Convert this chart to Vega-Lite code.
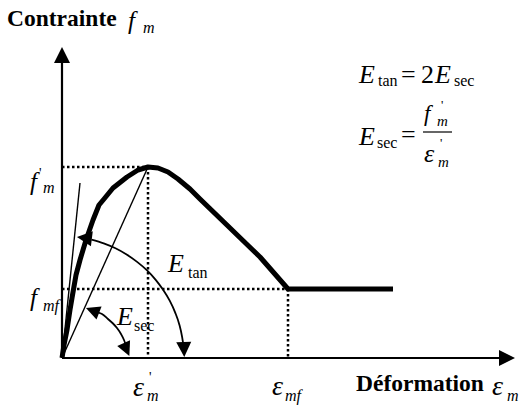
{
  "$schema": "https://vega.github.io/schema/vega-lite/v6.json",
  "width": 522,
  "height": 405,
  "padding": 0,
  "autosize": {"type": "none"},
  "background": "white",
  "config": {"view": {"stroke": null}},
  "datasets": {
    "axes": [{"x": 0, "y": 0, "x2": 0, "y2": 298}, {"x": 0, "y": 0, "x2": 440, "y2": 0}],
    "dots": [
      {"x": 0, "y": 191, "x2": 86, "y2": 191},
      {"x": 86, "y": 191, "x2": 86, "y2": 0},
      {"x": 0, "y": 69, "x2": 226, "y2": 69},
      {"x": 226, "y": 69, "x2": 226, "y2": 0}
    ],
    "thin": [{"x": 0, "y": 0, "x2": 86, "y2": 191}, {"x": 0, "y": 0, "x2": 18, "y2": 175}],
    "frac": [{"x": 361, "y": 226, "x2": 390, "y2": 226}],
    "curve": [
      {"i": 0, "x": 0, "y": 0}, {"i": 1, "x": 2, "y": 13}, {"i": 2, "x": 5, "y": 28},
      {"i": 3, "x": 8, "y": 48}, {"i": 4, "x": 10, "y": 60}, {"i": 5, "x": 14, "y": 83},
      {"i": 6, "x": 18, "y": 98}, {"i": 7, "x": 24, "y": 118}, {"i": 8, "x": 31, "y": 138},
      {"i": 9, "x": 37, "y": 153}, {"i": 10, "x": 42, "y": 159}, {"i": 11, "x": 51, "y": 170},
      {"i": 12, "x": 65, "y": 181}, {"i": 13, "x": 76, "y": 188}, {"i": 14, "x": 86, "y": 191},
      {"i": 15, "x": 96, "y": 190}, {"i": 16, "x": 106, "y": 186}, {"i": 17, "x": 116, "y": 179},
      {"i": 18, "x": 128, "y": 169}, {"i": 19, "x": 138, "y": 159}, {"i": 20, "x": 168, "y": 130},
      {"i": 21, "x": 198, "y": 101}, {"i": 22, "x": 226, "y": 69}, {"i": 23, "x": 331, "y": 69}
    ],
    "arcs": [
      {"arc": "tan", "i": 0, "x": 29.5, "y": 118.4}, {"arc": "tan", "i": 1, "x": 41.7, "y": 114.6},
      {"arc": "tan", "i": 2, "x": 53.5, "y": 109.7}, {"arc": "tan", "i": 3, "x": 64.6, "y": 103.5},
      {"arc": "tan", "i": 4, "x": 75.1, "y": 96.1}, {"arc": "tan", "i": 5, "x": 84.8, "y": 87.8},
      {"arc": "tan", "i": 6, "x": 93.5, "y": 78.4}, {"arc": "tan", "i": 7, "x": 101.1, "y": 68.2},
      {"arc": "tan", "i": 8, "x": 107.7, "y": 57.3}, {"arc": "tan", "i": 9, "x": 113.1, "y": 45.7},
      {"arc": "tan", "i": 10, "x": 117.3, "y": 33.6}, {"arc": "tan", "i": 11, "x": 120.1, "y": 21.2},
      {"arc": "tan", "i": 12, "x": 121.1, "y": 14.9},
      {"arc": "sec", "i": 0, "x": 36, "y": 45.5}, {"arc": "sec", "i": 1, "x": 40, "y": 44},
      {"arc": "sec", "i": 2, "x": 46, "y": 39}, {"arc": "sec", "i": 3, "x": 51, "y": 34.5},
      {"arc": "sec", "i": 4, "x": 55, "y": 30}, {"arc": "sec", "i": 5, "x": 59, "y": 24},
      {"arc": "sec", "i": 6, "x": 62, "y": 18}, {"arc": "sec", "i": 7, "x": 63.5, "y": 14}
    ],
    "heads": [
      {"x": 0, "y": 303, "a": 0, "s": 256},
      {"x": 445, "y": 0, "a": 90, "s": 256},
      {"x": 22.4, "y": 120.1, "a": -83, "s": 225},
      {"x": 122, "y": 8.5, "a": 178, "s": 225},
      {"x": 30.5, "y": 47.5, "a": -69, "s": 196},
      {"x": 64.5, "y": 8.5, "a": 156, "s": 196}
    ],
    "bold": [
      {"x": -55, "y": 332, "t": "Contrainte", "s": 23.5},
      {"x": 294, "y": -33, "t": "Déformation", "s": 23.5}
    ],
    "ital": [
      {"x": 66, "y": 329, "t": "f", "s": 25}, {"x": 81, "y": 325, "t": "m", "s": 16},
      {"x": -32, "y": 168, "t": "f", "s": 25}, {"x": -19, "y": 165, "t": "m", "s": 16},
      {"x": -32, "y": 52, "t": "f", "s": 25}, {"x": -19, "y": 47, "t": "mf", "s": 16},
      {"x": 106, "y": 86, "t": "E", "s": 26}, {"x": 55, "y": 33, "t": "E", "s": 26},
      {"x": 71, "y": -38, "t": "ε", "s": 28}, {"x": 85, "y": -43, "t": "m", "s": 16},
      {"x": 210, "y": -37, "t": "ε", "s": 28}, {"x": 223, "y": -43, "t": "mf", "s": 16},
      {"x": 430, "y": -37, "t": "ε", "s": 28}, {"x": 445, "y": -43, "t": "m", "s": 16},
      {"x": 297, "y": 275, "t": "E", "s": 26}, {"x": 373, "y": 275, "t": "E", "s": 26},
      {"x": 297, "y": 213, "t": "E", "s": 26},
      {"x": 362, "y": 237, "t": "f", "s": 23}, {"x": 375, "y": 232, "t": "m", "s": 15},
      {"x": 362, "y": 196, "t": "ε", "s": 26}, {"x": 376, "y": 191, "t": "m", "s": 15}
    ],
    "reg": [
      {"x": 126, "y": 80, "t": "tan", "s": 16}, {"x": 72, "y": 27, "t": "sec", "s": 16},
      {"x": 316, "y": 272, "t": "tan", "s": 16}, {"x": 339, "y": 275, "t": "=", "s": 26},
      {"x": 359, "y": 275, "t": "2", "s": 26}, {"x": 392, "y": 272, "t": "sec", "s": 16},
      {"x": 315, "y": 210, "t": "sec", "s": 16}, {"x": 339, "y": 215, "t": "=", "s": 26},
      {"x": -23, "y": 180, "t": "'", "s": 14}, {"x": 87, "y": -24, "t": "'", "s": 14},
      {"x": 379, "y": 249, "t": "'", "s": 13}, {"x": 378, "y": 211, "t": "'", "s": 13}
    ]
  },
  "encoding": {
    "x": {"field": "x", "type": "quantitative", "scale": {"domain": [-62, 460], "nice": false, "zero": false}, "axis": null},
    "y": {"field": "y", "type": "quantitative", "scale": {"domain": [-47, 358], "nice": false, "zero": false}, "axis": null}
  },
  "layer": [
    {
      "data": {"name": "dots"},
      "mark": {"type": "rule", "color": "black", "strokeWidth": 2.5, "strokeDash": [2.5, 2.5]},
      "encoding": {"x2": {"field": "x2"}, "y2": {"field": "y2"}}
    },
    {
      "data": {"name": "thin"},
      "mark": {"type": "rule", "color": "black", "strokeWidth": 1.4},
      "encoding": {"x2": {"field": "x2"}, "y2": {"field": "y2"}}
    },
    {
      "data": {"name": "axes"},
      "mark": {"type": "rule", "color": "black", "strokeWidth": 2.2},
      "encoding": {"x2": {"field": "x2"}, "y2": {"field": "y2"}}
    },
    {
      "data": {"name": "frac"},
      "mark": {"type": "rule", "color": "black", "strokeWidth": 1.2},
      "encoding": {"x2": {"field": "x2"}, "y2": {"field": "y2"}}
    },
    {
      "data": {"name": "curve"},
      "mark": {"type": "line", "color": "black", "strokeWidth": 5, "strokeJoin": "round", "strokeCap": "butt"},
      "encoding": {"order": {"field": "i", "type": "quantitative"}}
    },
    {
      "data": {"name": "arcs"},
      "mark": {"type": "line", "color": "black", "strokeWidth": 1.8, "interpolate": "monotone"},
      "encoding": {"detail": {"field": "arc"}, "order": {"field": "i", "type": "quantitative"}}
    },
    {
      "data": {"name": "heads"},
      "mark": {"type": "point", "filled": true, "color": "black", "opacity": 1, "shape": "M-1,1L0,-1L1,1Z"},
      "encoding": {
        "size": {"field": "s", "type": "quantitative", "scale": null},
        "angle": {"field": "a", "type": "quantitative", "scale": null}
      }
    },
    {
      "data": {"name": "bold"},
      "mark": {"type": "text", "font": "Liberation Serif", "fontWeight": "bold", "align": "left", "baseline": "alphabetic", "color": "black"},
      "encoding": {"text": {"field": "t"}, "size": {"field": "s", "type": "quantitative", "scale": null}}
    },
    {
      "data": {"name": "ital"},
      "mark": {"type": "text", "font": "Liberation Serif", "fontStyle": "italic", "align": "left", "baseline": "alphabetic", "color": "black"},
      "encoding": {"text": {"field": "t"}, "size": {"field": "s", "type": "quantitative", "scale": null}}
    },
    {
      "data": {"name": "reg"},
      "mark": {"type": "text", "font": "Liberation Serif", "align": "left", "baseline": "alphabetic", "color": "black"},
      "encoding": {"text": {"field": "t"}, "size": {"field": "s", "type": "quantitative", "scale": null}}
    }
  ]
}
